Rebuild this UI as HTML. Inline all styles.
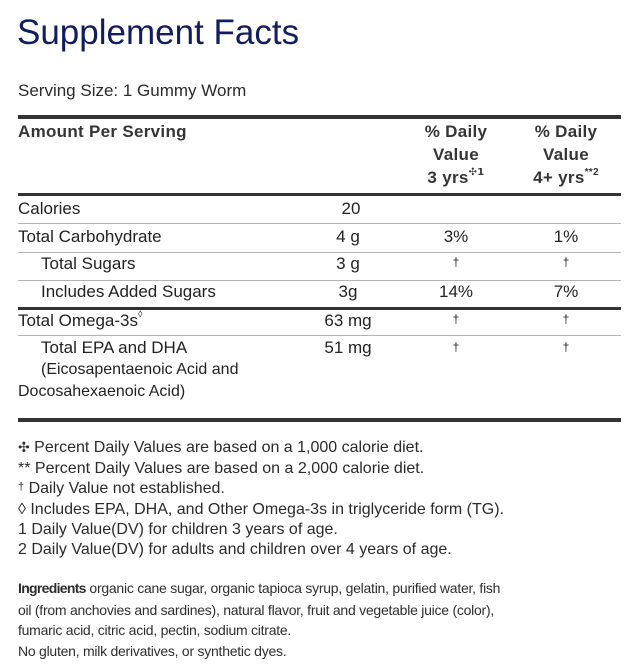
<!DOCTYPE html>
<html><head><meta charset="utf-8">
<style>
html,body{margin:0;padding:0;background:#fff;}
body{width:637px;height:669px;position:relative;overflow:hidden;font-family:"Liberation Sans",Arial,sans-serif;color:#222;}
.a{position:absolute;white-space:nowrap;}
.t{font-size:17px;line-height:20px;height:20px;}
.h{font-size:17px;line-height:20px;font-weight:bold;color:#353535;letter-spacing:0.3px;}
.c1{width:120px;text-align:center;left:288px;}
.c2{width:120px;text-align:center;left:396px;}
.c3{width:120px;text-align:center;left:506px;}
.ln{position:absolute;left:18px;width:603px;}
.thk{background:#333;}
.gry{background:#b3b3b3;height:1px;}
.dg{font-size:12px;line-height:12px;}
.f{font-size:16px;line-height:20px;color:#2a2a2a;}
.i{font-size:14px;line-height:20px;color:#2e2e2e;letter-spacing:-0.25px;}
sup{font-size:10px;line-height:0;position:relative;top:-1px;}
</style></head><body>

<div class="a" style="left:17px;top:13px;font-size:35px;line-height:40px;color:#111d5e;">Supplement Facts</div>

<div class="a t" style="left:18px;top:81px;color:#2a2a2a;">Serving Size: 1 Gummy Worm</div>

<div class="ln thk" style="top:115px;height:4px;"></div>

<div class="a h" style="left:18px;top:122px;">Amount Per Serving</div>
<div class="a h c2" style="top:122px;">% Daily</div>
<div class="a h c2" style="top:145px;">Value</div>
<div class="a h c2" style="top:168px;">3 yrs<sup style="font-family:'DejaVu Sans',sans-serif;font-weight:bold;">✣1</sup></div>
<div class="a h c3" style="top:122px;">% Daily</div>
<div class="a h c3" style="top:145px;">Value</div>
<div class="a h c3" style="top:168px;">4+ yrs<sup>**2</sup></div>

<div class="ln thk" style="top:193px;height:3px;"></div>

<div class="a t" style="left:18px;top:199px;">Calories</div>
<div class="a t c1" style="top:199px;padding-left:3px;">20</div>
<div class="ln gry" style="top:223px;"></div>

<div class="a t" style="left:18px;top:227px;">Total Carbohydrate</div>
<div class="a t c1" style="top:227px;">4 g</div>
<div class="a t c2" style="top:227px;">3%</div>
<div class="a t c3" style="top:227px;">1%</div>
<div class="ln gry" style="top:252px;"></div>

<div class="a t" style="left:41px;top:254px;">Total Sugars</div>
<div class="a t c1" style="top:254px;">3 g</div>
<div class="a dg c2" style="top:256px;">†</div>
<div class="a dg c3" style="top:256px;">†</div>
<div class="ln gry" style="top:280px;"></div>

<div class="a t" style="left:41px;top:282px;">Includes Added Sugars</div>
<div class="a t c1" style="top:282px;">3g</div>
<div class="a t c2" style="top:282px;">14%</div>
<div class="a t c3" style="top:282px;">7%</div>

<div class="ln thk" style="top:307px;height:3px;"></div>

<div class="a t" style="left:18px;top:311px;">Total Omega-3s<sup style="font-size:9px;top:-2px;">◊</sup></div>
<div class="a t c1" style="top:311px;">63 mg</div>
<div class="a dg c2" style="top:313px;">†</div>
<div class="a dg c3" style="top:313px;">†</div>
<div class="ln gry" style="top:335px;"></div>

<div class="a t" style="left:41px;top:338px;">Total EPA and DHA</div>
<div class="a t c1" style="top:338px;">51 mg</div>
<div class="a dg c2" style="top:341px;">†</div>
<div class="a dg c3" style="top:341px;">†</div>
<div class="a t" style="left:41px;top:360px;font-size:16px;">(Eicosapentaenoic Acid and</div>
<div class="a t" style="left:18px;top:382px;font-size:16px;">Docosahexaenoic Acid)</div>

<div class="ln thk" style="top:418px;height:4px;"></div>

<div class="a f" style="left:18px;top:438px;"><span style="font-family:'DejaVu Sans',sans-serif;font-size:14px;">✣</span> Percent Daily Values are based on a 1,000 calorie diet.</div>
<div class="a f" style="left:18px;top:459px;">** Percent Daily Values are based on a 2,000 calorie diet.</div>
<div class="a f" style="left:18px;top:479px;"><span style="font-size:11px;position:relative;top:-3px;">†</span> Daily Value not established.</div>
<div class="a f" style="left:18px;top:500px;">◊ Includes EPA, DHA, and Other Omega-3s in triglyceride form (TG).</div>
<div class="a f" style="left:18px;top:520px;">1 Daily Value(DV) for children 3 years of age.</div>
<div class="a f" style="left:18px;top:540px;">2 Daily Value(DV) for adults and children over 4 years of age.</div>

<div class="a i" style="left:18px;top:578px;"><b style="letter-spacing:-0.7px;">Ingredients</b> organic cane sugar, organic tapioca syrup, gelatin, purified water, fish</div>
<div class="a i" style="left:18px;top:600px;">oil (from anchovies and sardines), natural flavor, fruit and vegetable juice (color),</div>
<div class="a i" style="left:18px;top:620px;">fumaric acid, citric acid, pectin, sodium citrate.</div>
<div class="a i" style="left:18px;top:641px;">No gluten, milk derivatives, or synthetic dyes.</div>

</body></html>
